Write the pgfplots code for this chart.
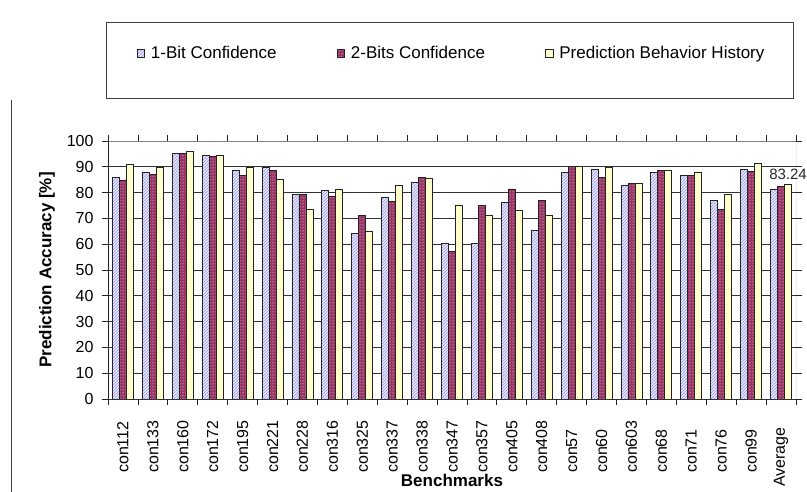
\documentclass[border=0pt]{standalone}
\usepackage{pgfplots}
\pgfplotsset{compat=1.18}
\usepackage{fontspec}
\setmainfont{Liberation Sans}
\usetikzlibrary{patterns}
\definecolor{barblue}{RGB}{150,150,235}
\definecolor{barbluebg}{RGB}{232,232,252}
\definecolor{barred}{RGB}{153,51,102}
\definecolor{baryel}{RGB}{255,255,204}
\definecolor{edge}{RGB}{35,35,35}

\pgfplotstableread{
x b r y
0 86.0 84.9 90.8
1 87.7 87.1 89.8
2 95.0 95.0 96.0
3 94.4 94.0 94.4
4 88.6 86.6 89.8
5 89.7 88.6 85.0
6 79.2 79.2 73.5
7 80.9 78.7 81.3
8 64.0 71.3 65.1
9 78.2 76.7 82.9
10 84.0 85.9 85.5
11 60.2 57.1 74.9
12 60.2 74.9 71.3
13 76.1 81.4 73.0
14 65.5 77.1 71.3
15 87.7 90.3 90.3
16 89.1 86.0 89.7
17 82.9 83.4 83.4
18 87.7 88.6 88.6
19 86.6 86.6 87.7
20 77.1 73.5 79.2
21 88.8 88.2 91.3
22 81.4 82.4 83.24
}\datatable

\begin{document}
\begin{tikzpicture}
\begin{axis}[
  name=ax,
  scale only axis, width=688pt, height=258pt,
  xmin=-0.5, xmax=22.5, ymin=0, ymax=100,
  ytick={0,10,...,100},
  xtick={-0.5,0.5,...,22.5},
  xticklabels={},
  extra x ticks={0,...,22},
  extra x tick labels={con112,con133,con160,con172,con195,con221,con228,con316,con325,
    con337,con338,con347,con357,con405,con408,con57,con60,con603,con68,con71,con76,con99,
    \hspace*{-14pt}Average},
  extra x tick style={major tick length=0pt},
  x tick label style={yshift=-74pt, rotate=90, anchor=west, inner sep=0pt,
     font=\fontsize{16}{19}\selectfont},
  y tick label style={xshift=-5pt, font=\fontsize{16}{19}\selectfont},
  /pgf/number format/assume math mode=true,
  tick align=outside,
  major tick length=6pt,
  tick style={edge, line width=0.8pt},
  ymajorgrids,
  major grid style={draw=black!80, line width=0.8pt},
  axis line style={draw=none},
  every axis y label/.style={at={(axis description cs:-0.0887,0.5)}, rotate=90, anchor=center,
     font=\fontsize{17}{20}\selectfont\bfseries},
  every axis x label/.style={at={(axis description cs:0.5,-0.314)}, anchor=center,
     font=\fontsize{17}{20}\selectfont\bfseries},
  ylabel={Prediction Accuracy [\%]},
  xlabel={Benchmarks},
  legend style={draw=none, fill=none, at={(axis description cs:0.4993,1.341)}, anchor=center,
     font=\fontsize{17}{20}\selectfont, legend columns=3,
     /tikz/every odd column/.append style={column sep=4pt},
     /tikz/every even column/.append style={column sep=58pt}},
  legend image code/.code={\draw[#1] (0pt,-4pt) rectangle (7.5pt,4pt);},
  every axis plot/.append style={ybar, bar width=7pt, draw=edge, line width=0.8pt},
]
\addplot[bar shift=-7pt, fill=barbluebg, postaction={pattern=north east lines, pattern color=barblue}]
  table[x=x, y=b] {\datatable};
\addplot[bar shift=0pt, fill=barred, postaction={pattern=dots, pattern color=white}]
  table[x=x, y=r] {\datatable};
\addplot[bar shift=7pt, fill=baryel]
  table[x=x, y=y] {\datatable};
\legend{1-Bit Confidence, 2-Bits Confidence, Prediction Behavior History}
\addplot[forget plot, bar shift=7pt, draw=none, fill=none,
  nodes near coords={83.24},
  every node near coord/.append style={font=\fontsize{15}{17}\selectfont, inner sep=1pt, yshift=3pt, xshift=7pt, text=black!85}]
  coordinates {(22,83.24)};
\draw[gray, line width=0.8pt] (rel axis cs:0,1) -- (rel axis cs:1,1) -- (rel axis cs:1,0);
\draw[edge, line width=0.8pt] (rel axis cs:0,1) -- (rel axis cs:0,0) -- (rel axis cs:1,0);
\end{axis}
\draw[black!75, line width=0.8pt] ([shift={(-2pt,301pt)}]ax.south west) rectangle ([shift={(685pt,377pt)}]ax.south west);
\draw[black!75, line width=0.8pt] ([shift={(-97pt,-93pt)}]ax.south west) -- ([shift={(-97pt,299pt)}]ax.south west);
\pgfresetboundingbox
\useasboundingbox ([shift={(-108pt,-93pt)}]ax.south west) rectangle ([shift={(699pt,399pt)}]ax.south west);
\end{tikzpicture}
\end{document}
